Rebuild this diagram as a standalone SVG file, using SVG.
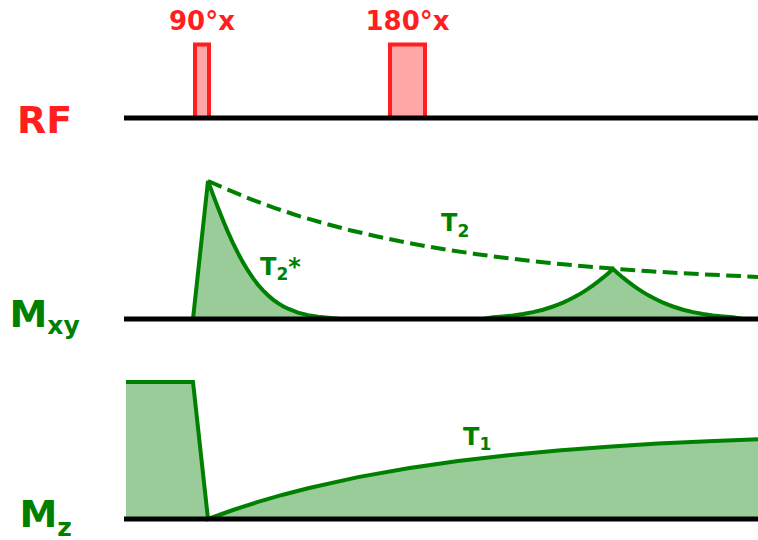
<svg xmlns="http://www.w3.org/2000/svg" width="758" height="540" viewBox="0 0 758 540">
<style>
  text { font-family: "DejaVu Sans", "Liberation Sans", sans-serif; font-weight: bold; }
  .red { fill: #ff1f1f; }
  .grn { fill: #008000; }
  .pulse { fill: #ffa6a6; stroke: #ff1f1f; stroke-width: 4; }
  .area { fill: #99cc99; stroke: none; }
  .curve { fill: none; stroke: #008000; stroke-width: 4; stroke-linejoin: miter; }
  .dash { fill: none; stroke: #008000; stroke-width: 4; stroke-dasharray: 14.8 6.4; }
  .axis { stroke: #000000; stroke-width: 5; fill: none; }
</style>
<rect x="0" y="0" width="758" height="540" fill="#ffffff"/>

<g id="rf-pulses">
  <rect class="pulse" x="195" y="44.5" width="14" height="73.5"/>
  <rect class="pulse" x="390" y="44.5" width="35" height="73.5"/>
  <text class="red" x="202" y="30" font-size="26" text-anchor="middle">90°x</text>
  <text class="red" x="407.5" y="30" font-size="26" text-anchor="middle">180°x</text>
</g>

<g id="mxy-signal">
  <path class="area" d="M193,319 L208,181 L212,191.9 L216,202.6 L220,212.8 L224,222.7 L228,232.1 L233,243.1 L238,253.2 L243,262.4 L248,270.7 L253,278.1 L258,284.7 L263,290.4 L268,295.3 L273,299.6 L278,303.2 L283,306.2 L288,308.7 L298,312.6 L308,315.1 L318,316.7 L328,317.7 L340,319 Z"/>
  <path class="curve" d="M193,319 L208,181 L212,191.9 L216,202.6 L220,212.8 L224,222.7 L228,232.1 L233,243.1 L238,253.2 L243,262.4 L248,270.7 L253,278.1 L258,284.7 L263,290.4 L268,295.3 L273,299.6 L278,303.2 L283,306.2 L288,308.7 L298,312.6 L308,315.1 L318,316.7 L328,317.7 L340,319"/>
  <path class="area" d="M483,319 L493,317.3 L503,316.5 L513,315.5 L523,314 L533,312.1 L543,309.7 L553,306.5 L558,304.7 L563,302.6 L568,300.3 L573,297.8 L578,295.1 L583,292.1 L588,288.9 L593,285.4 L598,281.6 L603,277.7 L608,273.4 L613,269 L618,273.4 L623,277.7 L628,281.6 L633,285.4 L638,288.9 L643,292.1 L648,295.1 L653,297.8 L658,300.3 L663,302.6 L668,304.7 L673,306.5 L683,309.7 L693,312.1 L703,314 L713,315.5 L723,316.5 L733,317.3 L743,319 Z"/>
  <path class="curve" d="M483,319 L493,317.3 L503,316.5 L513,315.5 L523,314 L533,312.1 L543,309.7 L553,306.5 L558,304.7 L563,302.6 L568,300.3 L573,297.8 L578,295.1 L583,292.1 L588,288.9 L593,285.4 L598,281.6 L603,277.7 L608,273.4 L613,269 L618,273.4 L623,277.7 L628,281.6 L633,285.4 L638,288.9 L643,292.1 L648,295.1 L653,297.8 L658,300.3 L663,302.6 L668,304.7 L673,306.5 L683,309.7 L693,312.1 L703,314 L713,315.5 L723,316.5 L733,317.3 L743,319"/>
  <path class="dash" d="M208,181 L229,190.2 L250,198.9 L275,208.1 L300,216.3 L325,223.6 L350,230.2 L375,236.0 L400,241.3 L425,246.0 L450,250.2 L475,253.9 L500,257.3 L525,260.3 L550,263 L581,266 L613,268.6 L650,271.3 L700,274.2 L758,276.9"/>
  <text class="grn" x="260" y="275" font-size="24">T<tspan font-size="17" dy="5">2</tspan><tspan dy="-5">*</tspan></text>
  <text class="grn" x="441" y="231" font-size="24">T<tspan font-size="17" dy="6">2</tspan></text>
</g>

<g id="mz-signal">
  <path class="area" d="M126,519 L126,382 L193,382 L208,519 L233,510 L258,501.9 L283,494.7 L308,488.2 L358,477.1 L408,468.2 L458,460.9 L508,455.2 L558,450.5 L608,446.7 L658,443.6 L708,441.2 L758,439.2 L758,519 Z"/>
  <path class="curve" d="M126,382 L193,382 L208,519 L233,510 L258,501.9 L283,494.7 L308,488.2 L358,477.1 L408,468.2 L458,460.9 L508,455.2 L558,450.5 L608,446.7 L658,443.6 L708,441.2 L758,439.2"/>
  <text class="grn" x="463" y="445" font-size="24">T<tspan font-size="17" dy="5">1</tspan></text>
</g>

<g id="axes">
  <line class="axis" x1="124" y1="118" x2="758" y2="118"/>
  <line class="axis" x1="124" y1="319" x2="758" y2="319"/>
  <line class="axis" x1="124" y1="519" x2="758" y2="519"/>
</g>

<g id="labels">
  <text class="red" x="17" y="133" font-size="38">RF</text>
  <text class="grn" x="9.5" y="327" font-size="38">M<tspan font-size="25" dy="7">xy</tspan></text>
  <text class="grn" x="19.5" y="527" font-size="38">M<tspan font-size="25" dy="8.5">z</tspan></text>
</g>
</svg>
